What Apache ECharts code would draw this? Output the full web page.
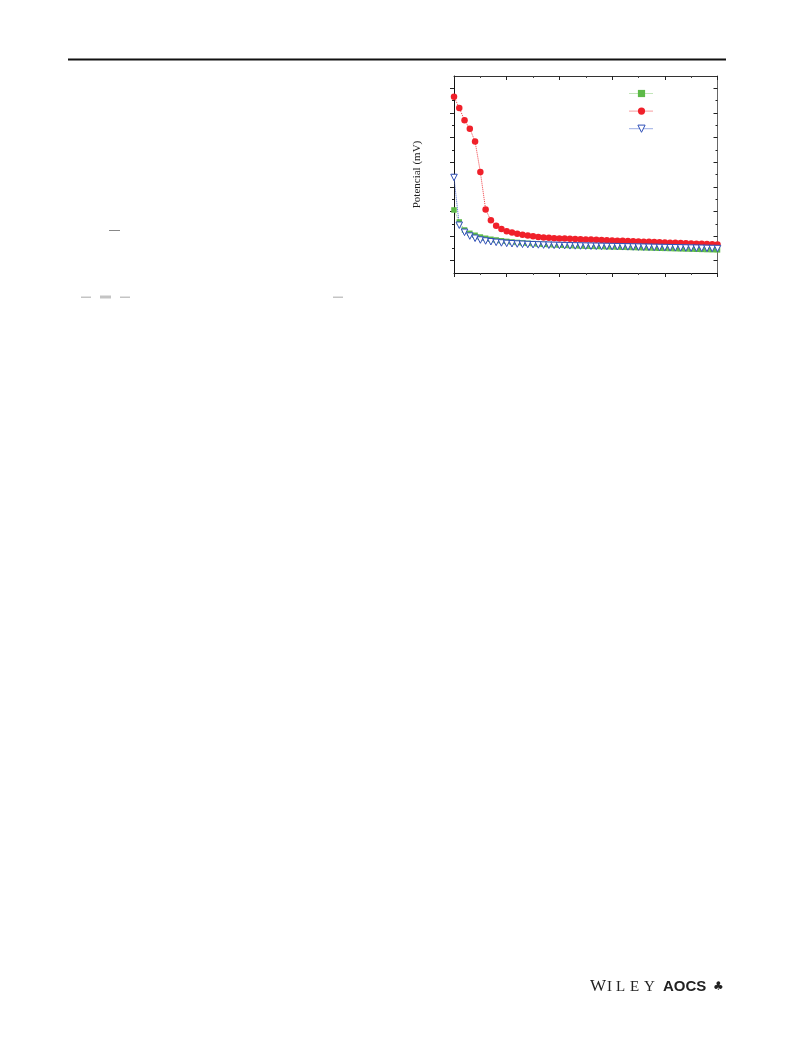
<!DOCTYPE html>
<html><head><meta charset="utf-8">
<script src="https://cdn.jsdelivr.net/npm/echarts@6/dist/echarts.min.js"></script>
<style>html,body{margin:0;padding:0;background:#fff}#c{width:793px;height:1053px}</style>
</head><body><div id="c"></div>
<script>
// x positions (sample index / time step)
const timeSteps = [0,1,2,3,4,5,6,7,8,9,10,11,12,13,14,15,16,17,18,19,20,21,22,23,24,25,26,27,28,29,30,31,32,33,34,35,36,37,38,39,40,41,42,43,44,45,46,47,48,49,50];
const seriesNames = ['S1', 'S2', 'S3']; // legend text is blank in the reference
const greenValues = [103, 78.6, 62.3, 55.6, 51.6, 48, 45.5, 43.5, 42, 40.5, 39.2, 38, 37, 36.1, 35.3, 34.6, 33.9, 33.3, 32.7, 32.1, 31.6, 31.1, 30.7, 30.3, 29.9, 29.5, 29.2, 28.9, 28.6, 28.3, 28, 27.7, 27.4, 27.1, 26.8, 26.5, 26.2, 25.9, 25.6, 25.3, 25, 24.7, 24.4, 24.1, 23.8, 23.5, 23.2, 22.9, 22.6, 22.3, 22];
const redValues = [333, 310, 285, 268, 242, 180, 104, 82, 71, 64.5, 60, 57, 54.5, 52.5, 51, 49.5, 48.3, 47.3, 46.4, 45.6, 45.2, 45, 44.5, 44, 43.6, 43.2, 42.8, 42.3, 41.9, 41.5, 41.1, 40.7, 40.3, 39.8, 39.4, 39, 38.6, 38.2, 37.8, 37.4, 37, 36.6, 36.2, 35.8, 35.4, 35, 34.6, 34.2, 33.8, 33.4, 33];
const blueValues = [169, 72, 57.6, 50, 45.5, 42, 40, 38.5, 37.2, 36, 35.1, 34.4, 33.8, 33.3, 32.8, 32.4, 32, 31.7, 31.4, 31.1, 30.8, 30.5, 30.2, 30, 29.8, 29.6, 29.4, 29.2, 29, 28.8, 28.6, 28.4, 28.2, 28, 27.8, 27.6, 27.4, 27.2, 27, 26.8, 26.6, 26.4, 26.2, 26, 25.8, 25.6, 25.4, 25.2, 25, 24.8, 24.6];
const yMajorTicks = [0, 50, 100, 150, 200, 250, 300, 350];
const yMinorTicks = [25, 75, 125, 175, 225, 275, 325];
const yRange = [-25, 375];
const xRange = [0, 50];
const yTitle = 'Potencial (mV)';

const pair = vals => timeSteps.map((t, i) => [t, vals[i]]);
const gridRect = {left: 454, top: 76, width: 263.5, height: 197};

const hiddenX = (gi, pos, inside) => ({
  type: 'value', gridIndex: gi, position: pos, min: xRange[0], max: xRange[1], interval: 10,
  axisLine: {show: true, onZero: false, lineStyle: {color: pos === 'top' ? '#333' : '#111', width: 1}},
  axisTick: {show: true, inside: inside, length: 4, lineStyle: {color: '#222'}},
  minorTick: {show: true, splitNumber: 2, length: 2, lineStyle: {color: '#444'}},
  axisLabel: {show: false}, splitLine: {show: false}
});
const yAx = (gi, pos, inside, ticks, len, showLine, extra) => Object.assign({
  type: 'value', gridIndex: gi, position: pos, min: yRange[0], max: yRange[1],
  axisLine: {show: showLine, onZero: false, lineStyle: {color: pos === 'right' ? '#666' : '#111', width: 1}},
  axisTick: {show: true, inside: inside, length: len, customValues: ticks, lineStyle: {color: '#222'}},
  axisLabel: {show: false}, splitLine: {show: false}
}, extra || {});

const chart = echarts.init(document.getElementById('c'), null, {renderer: 'canvas'});
chart.setOption({
  backgroundColor: '#fff',
  animation: false,
  grid: [Object.assign({}, gridRect), Object.assign({}, gridRect)],
  xAxis: [
    hiddenX(0, 'bottom', false),
    hiddenX(0, 'top', true),
    {type: 'value', gridIndex: 1, min: xRange[0], max: xRange[1], show: false}
  ],
  yAxis: [
    yAx(0, 'left', false, yMajorTicks, 4, true, {
      name: yTitle, nameLocation: 'middle', nameGap: 31,
      nameTextStyle: {fontFamily: 'Liberation Serif', fontSize: 11, color: '#222'}
    }),
    yAx(0, 'right', true, yMajorTicks, 4, true),
    yAx(1, 'left', false, yMinorTicks, 2, false),
    yAx(1, 'right', true, yMinorTicks, 2, false)
  ],
  legend: {
    orient: 'vertical', left: 624, top: 84, itemWidth: 24, itemHeight: 9, itemGap: 9.5,
    formatter: () => '', data: seriesNames, selectedMode: false,
    lineStyle: {width: 1, type: 'dotted'},
    itemStyle: {borderWidth: 1}
  },
  series: [
    {name: seriesNames[0], type: 'line', xAxisIndex: 0, yAxisIndex: 0, data: pair(greenValues),
     symbol: 'rect', symbolSize: 5.5,
     itemStyle: {color: '#5dba48'}, lineStyle: {type: 'dotted', width: 1, color: '#86cc74'}},
    {name: seriesNames[1], type: 'line', xAxisIndex: 0, yAxisIndex: 0, data: pair(redValues),
     symbol: 'circle', symbolSize: 6.5,
     itemStyle: {color: '#f0202a'}, lineStyle: {type: 'dotted', width: 1, color: '#f03a40'}},
    {name: seriesNames[2], type: 'line', xAxisIndex: 0, yAxisIndex: 0, data: pair(blueValues),
     symbol: 'triangle', symbolRotate: 180, symbolSize: 6.5,
     itemStyle: {color: '#ffffff', borderColor: '#2f50b8', borderWidth: 1},
     lineStyle: {type: 'dotted', width: 1, color: '#3a5cc8'}}
  ],
  graphic: [
    {type: 'rect', shape: {x: 68, y: 58.5, width: 658, height: 2}, style: {fill: '#111'}},
    {type: 'rect', shape: {x: 109, y: 230, width: 11, height: 1}, style: {fill: '#888'}},
    {type: 'rect', shape: {x: 81, y: 296.5, width: 10, height: 1.5}, style: {fill: '#c4c4c4'}},
    {type: 'rect', shape: {x: 100, y: 295.5, width: 11, height: 3}, style: {fill: '#c4c4c4'}},
    {type: 'rect', shape: {x: 120, y: 296.5, width: 10, height: 1.5}, style: {fill: '#c4c4c4'}},
    {type: 'rect', shape: {x: 333, y: 296.5, width: 10, height: 1.5}, style: {fill: '#c4c4c4'}},
    {type: 'text', x: 590, y: 978, style: {text: 'W', font: '17px "Liberation Serif"', fill: '#222'}},
    {type: 'text', x: 607, y: 980, style: {text: 'I', font: '15px "Liberation Serif"', fill: '#222'}},
    {type: 'text', x: 616, y: 980, style: {text: 'L', font: '15px "Liberation Serif"', fill: '#222'}},
    {type: 'text', x: 630, y: 980, style: {text: 'E', font: '15px "Liberation Serif"', fill: '#222'}},
    {type: 'text', x: 644, y: 980, style: {text: 'Y', font: '15px "Liberation Serif"', fill: '#222'}},
    {type: 'text', x: 663, y: 979, style: {text: 'AOCS', font: 'bold 15px "Liberation Sans Narrow", "Liberation Sans"', fill: '#222'}},
    {type: 'text', x: 713, y: 981, style: {text: '♣', font: '12px "DejaVu Sans"', fill: '#222'}}
  ]
});
</script></body></html>
